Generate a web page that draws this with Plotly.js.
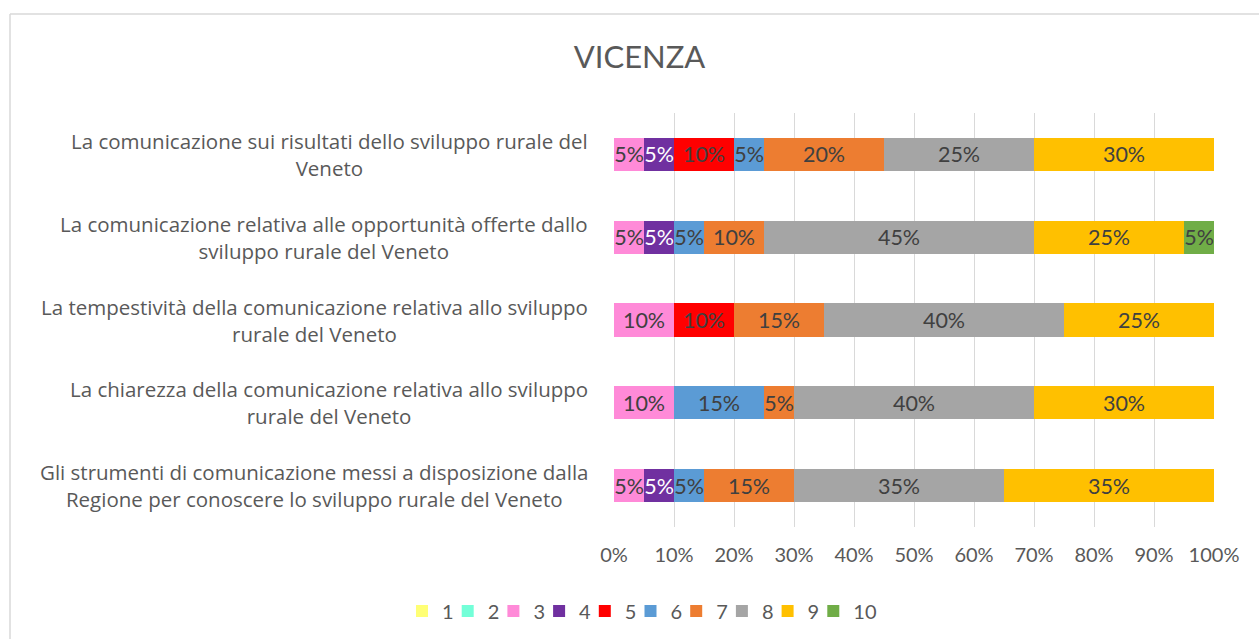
<!DOCTYPE html>
<html>
<head>
<meta charset="utf-8">
<script src="https://cdn.plot.ly/plotly-3.0.1.min.js"></script>
<style>
html,body{margin:0;padding:0;background:#fff;}
#chart{width:1259px;height:639px;}
</style>
</head>
<body>
<div id="chart"></div>
<script>
// Categories (top to bottom)
const categories = [
  "La comunicazione sui risultati dello sviluppo rurale del Veneto",
  "La comunicazione relativa alle opportunità offerte dallo sviluppo rurale del Veneto",
  "La tempestività della comunicazione relativa allo sviluppo rurale del Veneto",
  "La chiarezza della comunicazione relativa allo sviluppo rurale del Veneto",
  "Gli strumenti di comunicazione messi a disposizione dalla Regione per conoscere lo sviluppo rurale del Veneto"
];
// Wrapped tick labels as shown
const categoryLabels = [
  "La comunicazione sui risultati dello sviluppo rurale del<br>Veneto",
  "La comunicazione relativa alle opportunità offerte dallo<br>sviluppo rurale del Veneto",
  "La tempestività della comunicazione relativa allo sviluppo<br>rurale del Veneto",
  "La chiarezza della comunicazione relativa allo sviluppo<br>rurale del Veneto",
  "Gli strumenti di comunicazione messi a disposizione dalla<br>Regione per conoscere lo sviluppo rurale del Veneto"
];
const seriesNames = ["1","2","3","4","5","6","7","8","9","10"];
// Percent values per score, in category order
const s1  = [0, 0, 0, 0, 0];
const s2  = [0, 0, 0, 0, 0];
const s3  = [5, 5, 10, 10, 5];
const s4  = [5, 5, 0, 0, 5];
const s5  = [10, 0, 10, 0, 0];
const s6  = [5, 5, 0, 15, 5];
const s7  = [20, 10, 15, 5, 15];
const s8  = [25, 45, 40, 40, 35];
const s9  = [30, 25, 25, 30, 35];
const s10 = [0, 5, 0, 0, 0];
const xTickVals = [0,10,20,30,40,50,60,70,80,90,100];
const xTickText = ["0%","10%","20%","30%","40%","50%","60%","70%","80%","90%","100%"];

const seriesValues = [s1,s2,s3,s4,s5,s6,s7,s8,s9,s10];
const colors = ["#FFFF75","#73FFD8","#FF8AD8","#7030A0","#FF0000","#5B9BD5","#ED7D31","#A5A5A5","#FFC000","#70AD47"];
const textColors = ["#404040","#404040","#404040","#FFFFFF","#404040","#404040","#404040","#404040","#404040","#404040"];
const FONT = "Lato, 'Open Sans', sans-serif";
const LFONT = "'Open Sans', Lato, sans-serif";

const legendId = i => i === 0 ? 'legend' : 'legend' + (i + 1);

const traces = seriesValues.map((vals, i) => ({
  type: 'bar',
  orientation: 'h',
  name: seriesNames[i],
  legend: legendId(i),
  y: categories,
  x: vals,
  text: vals.map(v => v ? v + '%' : ''),
  textposition: 'inside',
  insidetextanchor: 'middle',
  textangle: 0,
  constraintext: 'none',
  cliponaxis: false,
  textfont: {family: FONT, size: 21.5, color: textColors[i]},
  marker: {color: colors[i], line: {width: 0}},
  hoverinfo: 'none'
}));

const annotations = categories.map((c, i) => ({
  xref: 'paper', yref: 'y',
  x: -0.04, y: c,
  xanchor: 'right', yanchor: 'middle',
  align: 'center',
  text: categoryLabels[i],
  showarrow: false,
  font: {family: LFONT, size: 20.5, color: '#595959'}
}));

const layout = {
  width: 1259, height: 639,
  margin: {l: 614, r: 45, t: 113, b: 112, pad: 0},
  paper_bgcolor: '#fff', plot_bgcolor: '#fff',
  barmode: 'stack',
  bargap: 0.6,
  showlegend: true,
  title: {text: 'VICENZA', font: {family: FONT, size: 31, color: '#595959'},
          x: 0.508, xanchor: 'center', xref: 'container', y: 1 - 57/639, yanchor: 'middle', yref: 'container'},
  xaxis: {
    range: [0, 100], tickvals: xTickVals, ticktext: xTickText,
    showgrid: true, gridcolor: '#D9D9D9', gridwidth: 1,
    zeroline: false, showline: false, ticks: '',
    tickfont: {family: FONT, size: 20, color: '#595959'},
    ticklabelstandoff: 14,
    fixedrange: true
  },
  yaxis: {
    type: 'category', categoryorder: 'array', categoryarray: categories,
    autorange: 'reversed',
    showticklabels: false, showgrid: false, zeroline: false, showline: false, ticks: '',
    fixedrange: true
  },
  annotations: annotations,
  shapes: [
    {type: 'line', xref: 'paper', yref: 'paper', x0: (10-614)/600, x1: (1270-614)/600, y0: (527-14)/414, y1: (527-14)/414, line: {color: '#D9D9D9', width: 1.5}},
    {type: 'line', xref: 'paper', yref: 'paper', x0: (10-614)/600, x1: (10-614)/600, y0: (527-14)/414, y1: (527-650)/414, line: {color: '#D9D9D9', width: 1.5}}
  ]
};

// One small legend per entry, laid out in a row like the original
seriesNames.forEach((n, i) => {
  layout[legendId(i)] = {
    orientation: 'h', xref: 'container', yref: 'container',
    x: (402 + 45.7 * i) / 1259, xanchor: 'left',
    y: 1 - 611/639, yanchor: 'middle',
    font: {family: FONT, size: 20, color: '#595959'},
    itemwidth: 30, bgcolor: 'rgba(0,0,0,0)', borderwidth: 0
  };
});

Plotly.newPlot('chart', traces, layout, {displayModeBar: false, staticPlot: true});
</script>
</body>
</html>
